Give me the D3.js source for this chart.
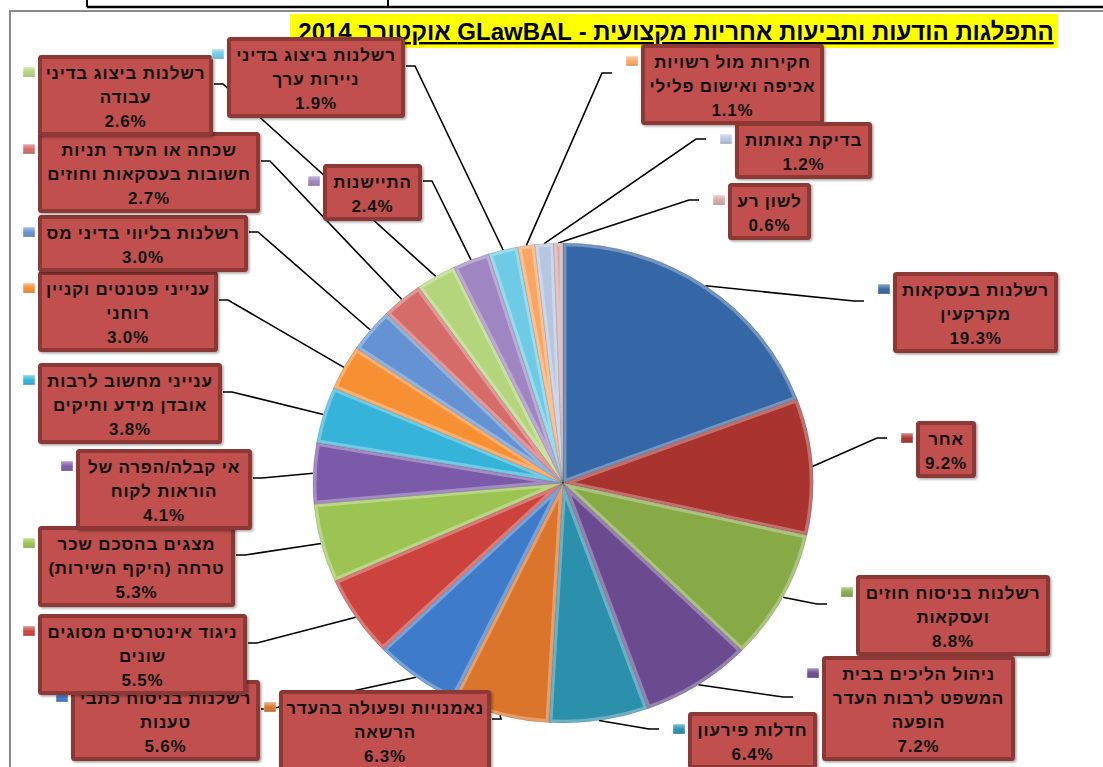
<!DOCTYPE html>
<html>
<head>
<meta charset="utf-8">
<script src="https://cdn.jsdelivr.net/npm/d3@7"></script>
<style>
body { margin: 0; background: #fff; }
</style>
</head>
<body>
<div id="chart"></div>
<script>
// categories in pie order (clockwise from 12 o'clock), "\n" = line break in label
const categories = [
	"רשלנות בעסקאות\nמקרקעין",
	"אחר",
	"רשלנות בניסוח חוזים\nועסקאות",
	"ניהול הליכים בבית\nהמשפט לרבות העדר\nהופעה",
	"חדלות פירעון",
	"נאמנויות ופעולה בהעדר\nהרשאה",
	"רשלנות בניסוח כתבי\nטענות",
	"ניגוד אינטרסים מסוגים\nשונים",
	"מצגים בהסכם שכר\nטרחה (היקף השירות)",
	"אי קבלה/הפרה של\nהוראות לקוח",
	"ענייני מחשוב לרבות\nאובדן מידע ותיקים",
	"ענייני פטנטים וקניין\nרוחני",
	"רשלנות בליווי בדיני מס",
	"שכחה או העדר תניות\nחשובות בעסקאות וחוזים",
	"רשלנות ביצוג בדיני\nעבודה",
	"התיישנות",
	"רשלנות ביצוג בדיני\nניירות ערך",
	"חקירות מול רשויות\nאכיפה ואישום פלילי",
	"בדיקת נאותות",
	"לשון רע"
];
const values = [19.3, 9.2, 8.8, 7.2, 6.4, 6.3, 5.6, 5.5, 5.3, 4.1, 3.8, 3.0, 3.0, 2.7, 2.6, 2.4, 1.9, 1.1, 1.2, 0.6];
const title = "התפלגות הודעות ותביעות אחריות מקצועית - GLawBAL אוקטובר 2014";

// slice colours (office palette, normal / strong / light variants)
const sliceColors = [
	"#3566a6", "#a9332f", "#87a946", "#6a4b90", "#2b90ac", "#db752b",
	"#3e7cca", "#cc423c", "#9cc452", "#7c5aaa", "#36b3d8", "#f78f33",
	"#6592d2", "#d66c69", "#b4d57b", "#9f86c2", "#6ecbe5", "#f9a665",
	"#b6c6e1", "#d6a9a8"
];

// manual label box placement (as in the original sheet)
const labelBoxes = [
	{x: 893, y: 272, w: 165}, {x: 916, y: 421, w: 60}, {x: 856, y: 575, w: 194},
	{x: 822, y: 656, w: 193}, {x: 688, y: 712, w: 129}, {x: 279, y: 690, w: 212},
	{x: 71, y: 680, w: 189}, {x: 38, y: 614, w: 209}, {x: 38, y: 526, w: 197},
	{x: 76, y: 449, w: 176}, {x: 38, y: 363, w: 184}, {x: 38, y: 271, w: 180},
	{x: 38, y: 215, w: 210}, {x: 38, y: 132, w: 222}, {x: 38, y: 55, w: 175},
	{x: 323, y: 164, w: 99}, {x: 227, y: 37, w: 178}, {x: 641, y: 44, w: 183},
	{x: 735, y: 122, w: 137}, {x: 728, y: 183, w: 83}
];

const W = 1103, H = 767;
const cx = 563, cy = 483, rx = 250, ry = 240;
const lineH = 24;
const fmt = d3.format(".1f");

const svg = d3.select("#chart").append("svg")
	.attr("width", W)
	.attr("height", H)
	.style("font-family", "'Liberation Sans', Arial, sans-serif");

const defs = svg.append("defs");

// soft shadow for the label boxes
const shadow = defs.append("filter").attr("id", "shadow")
	.attr("x", "-10%").attr("y", "-10%").attr("width", "130%").attr("height", "130%");
shadow.append("feDropShadow")
	.attr("dx", 1.5).attr("dy", 1.5)
	.attr("stdDeviation", 1.2)
	.attr("flood-color", "#000")
	.attr("flood-opacity", 0.35);

// little gradient for the legend keys
const keyGrad = defs.append("linearGradient").attr("id", "keyGrad")
	.attr("x1", 0).attr("y1", 0).attr("x2", 0).attr("y2", 1);
keyGrad.append("stop").attr("offset", "0%").attr("stop-color", "#fff").attr("stop-opacity", 0.45);
keyGrad.append("stop").attr("offset", "55%").attr("stop-color", "#fff").attr("stop-opacity", 0);
keyGrad.append("stop").attr("offset", "100%").attr("stop-color", "#000").attr("stop-opacity", 0.2);

/////////////////////////////////////////////////////////
//////////////// Sheet lines and frame /////////////////
/////////////////////////////////////////////////////////

svg.append("line")
	.attr("x1", 87).attr("y1", 7).attr("x2", W).attr("y2", 7)
	.attr("stroke", "#000").attr("stroke-width", 2.5);
[87, 388].forEach(x => {
	svg.append("line")
		.attr("x1", x).attr("y1", 0).attr("x2", x).attr("y2", 7)
		.attr("stroke", "#000").attr("stroke-width", 2);
});

svg.append("path")
	.attr("d", `M10,${H} V11 H${W}`)
	.attr("fill", "none")
	.attr("stroke", "#8a8a8a")
	.attr("stroke-width", 2);

/////////////////////////////////////////////////////////
//////////////////////// Title //////////////////////////
/////////////////////////////////////////////////////////

svg.append("rect")
	.attr("x", 290).attr("y", 14)
	.attr("width", 768).attr("height", 34)
	.attr("fill", "#ffff00");

svg.append("text")
	.attr("x", 676).attr("y", 40)
	.attr("direction", "rtl")
	.attr("text-anchor", "middle")
	.style("font-size", "24px")
	.style("font-weight", "bold")
	.style("text-decoration", "underline")
	.attr("fill", "#000")
	.text(title);

/////////////////////////////////////////////////////////
////////////////////////// Pie //////////////////////////
/////////////////////////////////////////////////////////

const data = values.map((v, i) => ({name: categories[i], value: v, i: i}));

const pie = d3.pie().sort(null).value(d => d.value);
const arcs = pie(data);

const arc = d3.arc().innerRadius(0).outerRadius(rx);

// point on the (slightly flattened) rim at the slice's mid angle
const rimPoint = d => {
	const a = (d.startAngle + d.endAngle) / 2;
	return [cx + rx * Math.sin(a), cy - ry * Math.cos(a)];
};

// leader lines first so the boxes sit above them
const leaders = svg.append("g").attr("class", "leaders");
arcs.forEach((d, i) => {
	const b = labelBoxes[i];
	const n = d.data.name.split("\n").length + 1;
	const p = rimPoint(d);
	const ey = b.y + 17 + (n - 2) * 12;
	let e1, e2;
	if (b.x + b.w / 2 < p[0]) {
		e1 = [b.x + b.w + 1, ey];
		e2 = [b.x + b.w + 10, ey];
	} else {
		e1 = [b.x - 29, ey];
		e2 = [b.x - 39, ey];
	}
	leaders.append("path")
		.attr("d", d3.line()([p, e2, e1]))
		.attr("fill", "none")
		.attr("stroke", "#000")
		.attr("stroke-width", 1.6);
});

const pieG = svg.append("g")
	.attr("transform", `translate(${cx},${cy}) scale(1,${ry / rx})`);

const slices = pieG.selectAll(".slice")
	.data(arcs)
	.enter().append("g")
	.attr("class", "slice");

slices.append("clipPath")
	.attr("id", d => "clip" + d.index)
	.append("path")
	.attr("d", arc);

slices.append("path")
	.attr("d", arc)
	.attr("fill", d => sliceColors[d.index]);

// bevel highlight along the slice edges
slices.append("path")
	.attr("d", arc)
	.attr("clip-path", d => "url(#clip" + d.index + ")")
	.attr("fill", "none")
	.attr("stroke", "#fff")
	.attr("stroke-opacity", 0.3)
	.attr("stroke-width", 7)
	.attr("stroke-linejoin", "round");

slices.append("path")
	.attr("d", arc)
	.attr("fill", "none")
	.attr("stroke", "#000")
	.attr("stroke-opacity", 0.12)
	.attr("stroke-width", 1);

/////////////////////////////////////////////////////////
///////////////////// Label boxes ///////////////////////
/////////////////////////////////////////////////////////

const labels = svg.append("g").attr("class", "labels");

arcs.forEach((d, i) => {
	const b = labelBoxes[i];
	const lines = d.data.name.split("\n").concat([fmt(d.data.value) + "%"]);
	const h = lineH * lines.length + 9;
	const g = labels.append("g");

	g.append("rect")
		.attr("x", b.x + 2).attr("y", b.y + 2)
		.attr("width", b.w - 4).attr("height", h - 4)
		.attr("rx", 1.5)
		.attr("fill", "#c0504d")
		.attr("stroke", "#8c3735")
		.attr("stroke-width", 4)
		.attr("filter", "url(#shadow)");

	g.append("rect")
		.attr("x", b.x - 15).attr("y", b.y + 12)
		.attr("width", 12).attr("height", 10)
		.attr("fill", sliceColors[i]);
	g.append("rect")
		.attr("x", b.x - 15).attr("y", b.y + 12)
		.attr("width", 12).attr("height", 10)
		.attr("fill", "url(#keyGrad)")
		.attr("stroke", "#fff")
		.attr("stroke-opacity", 0.5)
		.attr("stroke-width", 0.8);

	g.selectAll("text")
		.data(lines)
		.enter().append("text")
		.attr("x", b.x + b.w / 2)
		.attr("y", (t, j) => b.y + 18 + j * lineH + 6)
		.attr("direction", "rtl")
		.attr("text-anchor", "middle")
		.style("font-size", "17px")
		.style("font-weight", "bold")
		.style("letter-spacing", "0.8px")
		.attr("fill", "#111")
		.text(t => t);
});
</script>
</body>
</html>
